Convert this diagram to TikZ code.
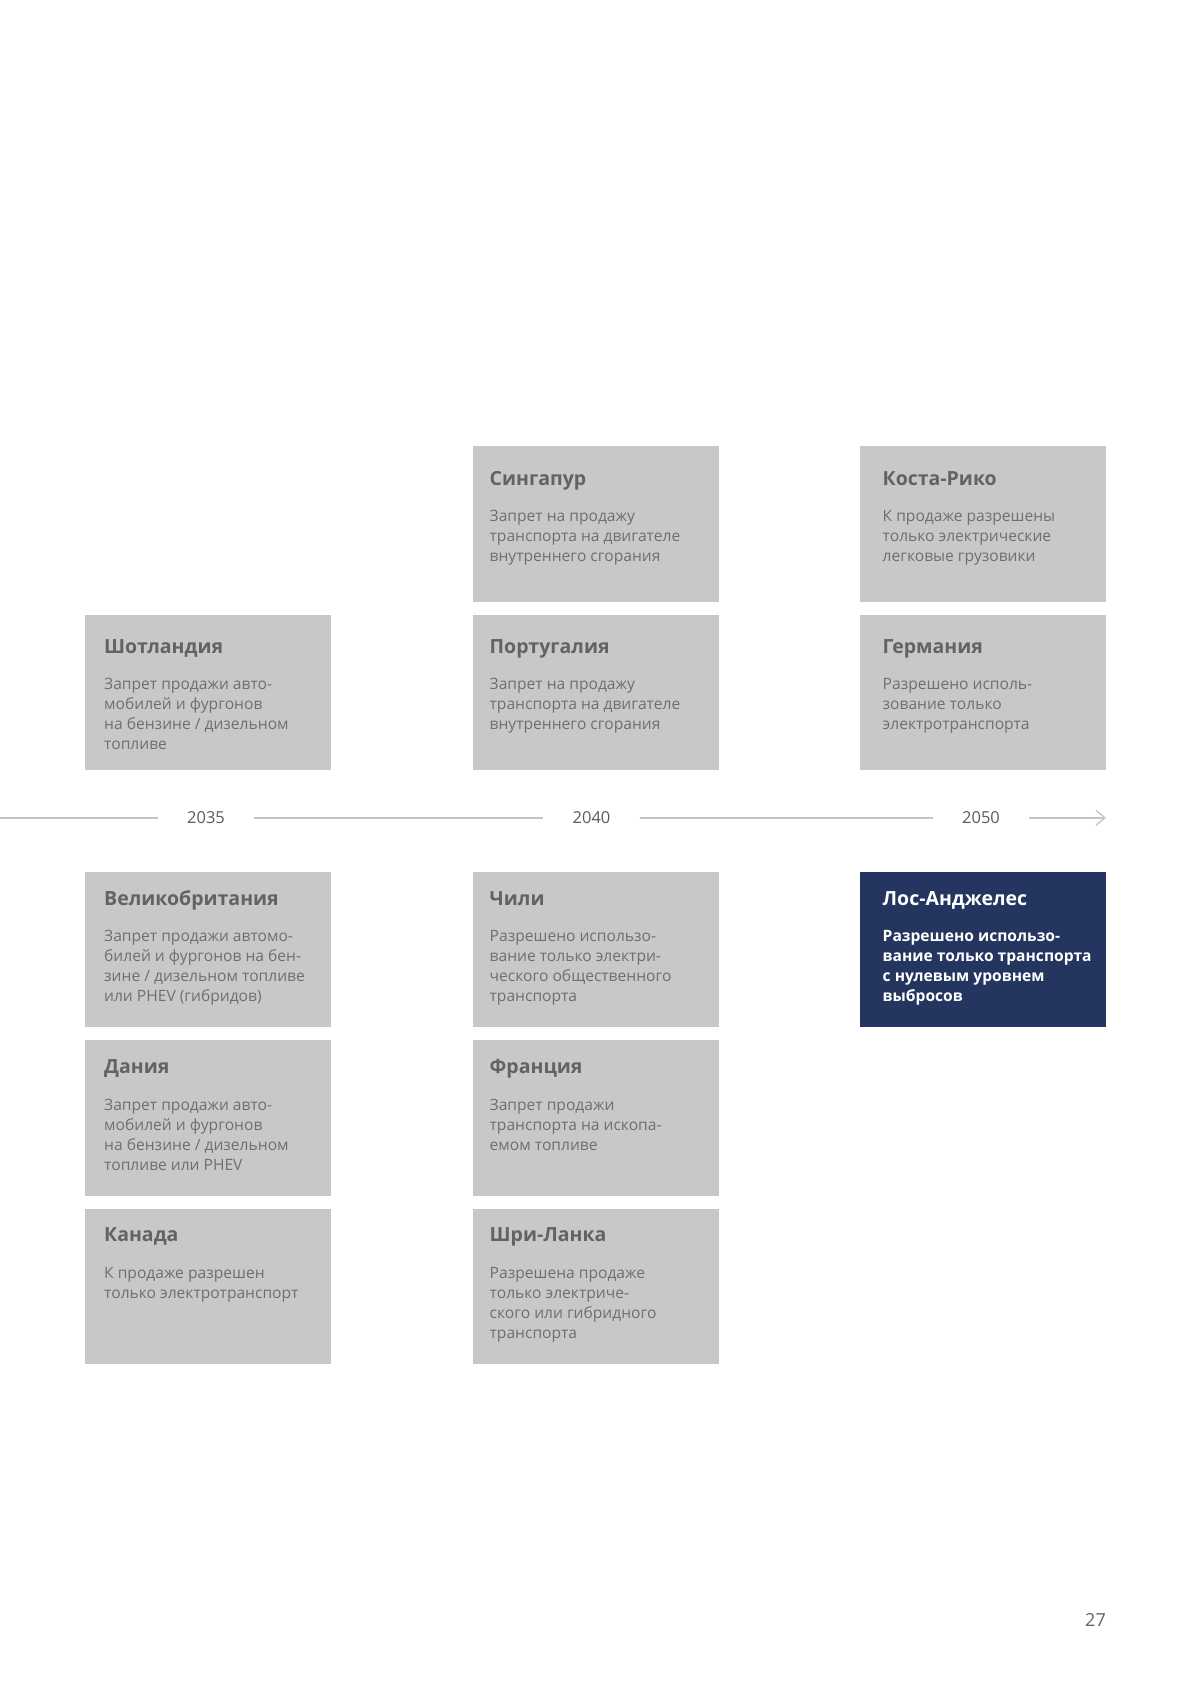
\documentclass[tikz,border=0pt]{standalone}
\usepackage{fontspec}
\setmainfont{Open Sans}
\usetikzlibrary{arrows.meta}
\definecolor{cardgray}{HTML}{C8C8C8}
\definecolor{ttlgray}{HTML}{636363}
\definecolor{txtgray}{HTML}{6F6F6F}
\definecolor{navy}{HTML}{24365F}
\definecolor{linegray}{HTML}{C4C4C4}
\definecolor{yeargray}{HTML}{5C5C5C}
\tikzset{
  card/.style={fill=cardgray, draw=none, anchor=north west, inner sep=0pt,
    minimum width=246pt, minimum height=155.5pt},
  navycard/.style={card, fill=navy},
  ttl/.style={anchor=base west, inner sep=0pt, text=ttlgray,
    font=\bfseries\fontsize{19.5}{24}\selectfont},
  bodytxt/.style={anchor=base west, inner sep=0pt, text=txtgray,
    font=\fontsize{15.6}{20}\selectfont},
  year/.style={inner xsep=29pt, inner ysep=0pt, text=yeargray,
    font=\fontsize{16.5}{20}\selectfont},
  tline/.style={draw=linegray, line width=1.5pt},
  pagenum/.style={anchor=base east, inner sep=0pt, text=ttlgray,
    font=\fontsize{18}{22}\selectfont}
}
% #1 name, #2 x, #3 y, #4 text x, #5 title offset, #6 body offset, #7 title, #8 body
\newcommand\mycard[8]{%
  \node[card] (#1) at (#2,#3) {};
  \node[ttl] (#1t) at (#4,#3+#5) {#7};
  \node[bodytxt] (#1b) at (#4,#3+#6) {\parbox[t]{235pt}{\raggedright #8}};
}
\begin{document}
\begin{tikzpicture}[x=1pt,y=-1pt]
\useasboundingbox[fill=white] (0,0) rectangle (1191,1684);

% row 1
\mycard{sing}{472.5}{446}{489.5}{39}{75.7}{Сингапур}{Запрет на продажу\\транспорта на двигателе\\внутреннего сгорания}
\mycard{costa}{860}{446}{882.5}{39}{75.7}{Коста-Рико}{К продаже разрешены\\только электрические\\легковые грузовики}
% row 2
\mycard{scot}{85}{614.3}{104}{38.7}{75}{Шотландия}{Запрет продажи авто-\\мобилей и фургонов\\на бензине / дизельном\\топливе}
\mycard{port}{472.5}{614.3}{489.5}{38.7}{75}{Португалия}{Запрет на продажу\\транспорта на двигателе\\внутреннего сгорания}
\mycard{germ}{860}{614.3}{882.5}{38.7}{75}{Германия}{Разрешено исполь-\\зование только\\электротранспорта}

% timeline
\coordinate (tl0) at (0,817.8);
\coordinate (tlend) at (1106,817.8);
\node[year] (y35) at (206,817.8) {2035};
\node[year] (y40) at (591.5,817.8) {2040};
\node[year] (y50) at (981,817.8) {2050};
\draw[tline] (tl0) -- (y35);
\draw[tline] (y35) -- (y40);
\draw[tline] (y40) -- (y50);
\draw[tline, -{Straight Barb[length=9pt,width=15pt,line width=1.3pt]}] (y50) -- (tlend);

% row 3
\mycard{uk}{85}{871.7}{104}{34}{70}{Великобритания}{Запрет продажи автомо-\\билей и фургонов на бен-\\зине / дизельном топливе\\или PHEV (гибридов)}
\mycard{chile}{472.5}{871.7}{489.5}{34}{70}{Чили}{Разрешено использо-\\вание только электри-\\ческого общественного\\транспорта}
\node[navycard] (la) at (860,871.7) {};
\node[ttl, text=white] (lat) at (882.5,871.7+34) {Лос-Анджелес};
\node[bodytxt, text=white] (lab) at (882.5,871.7+70) {\parbox[t]{235pt}{\raggedright\bfseries Разрешено использо-\\вание только транспорта\\с нулевым уровнем\\выбросов}};
% row 4
\mycard{den}{85}{1040}{104}{33.5}{70}{Дания}{Запрет продажи авто-\\мобилей и фургонов\\на бензине / дизельном\\топливе или PHEV}
\mycard{fra}{472.5}{1040}{489.5}{33.5}{70}{Франция}{Запрет продажи\\транспорта на ископа-\\емом топливе}
% row 5
\mycard{can}{85}{1208.3}{104}{33.5}{70}{Канада}{К продаже разрешен\\только электротранспорт}
\mycard{sri}{472.5}{1208.3}{489.5}{33.5}{70}{Шри-Ланка}{Разрешена продаже\\только электриче-\\ского или гибридного\\транспорта}

\node[pagenum] (pg) at (1106,1626) {27};
\end{tikzpicture}
\end{document}
